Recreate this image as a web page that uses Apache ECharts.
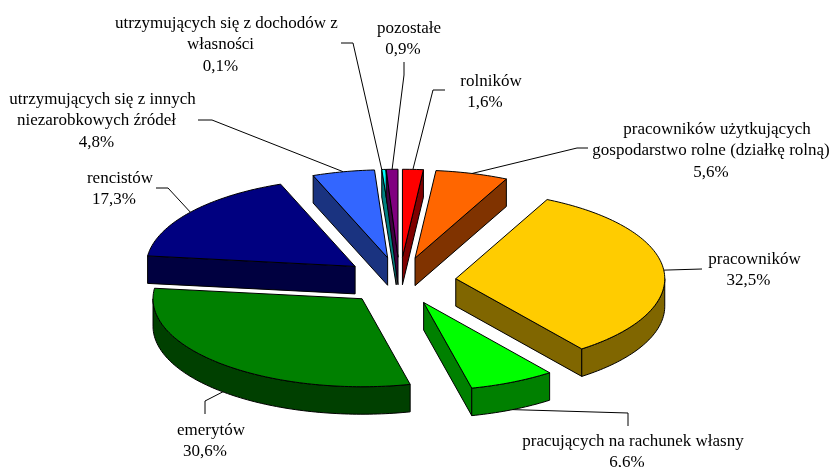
<!DOCTYPE html>
<html>
<head>
    <meta charset="UTF-8">
    <title>Struktura gospodarstw domowych</title>
    <script type="text/javascript" src="https://cdn.jsdelivr.net/npm/echarts@6/dist/echarts.min.js"></script>
</head>
<body style="margin: 0; background: #fff">
<div id="container" style="width: 831px; height: 467px"></div>
<script type="text/javascript">
    // data, clockwise from the top of the pie
    const categories = [
        'rolników',
        'pracowników użytkujących\ngospodarstwo rolne (działkę rolną)',
        'pracowników',
        'pracujących na rachunek własny',
        'emerytów',
        'rencistów',
        'utrzymujących się z innych\nniezarobkowych źródeł',
        'utrzymujących się z dochodów z\nwłasności',
        'pozostałe'
    ];
    const values = [1.6, 5.6, 32.5, 6.6, 30.6, 17.3, 4.8, 0.1, 0.9];

    // styles
    const topColors = ['#ff0000', '#ff6600', '#ffcc00', '#00ff00', '#008000', '#000080', '#3366ff', '#00ffff', '#800080'];
    const wallColors = ['#800000', '#803300', '#806600', '#008000', '#004000', '#000040', '#1a3380', '#008080', '#400040'];

    // label layout: centre of the text block, then the bends of the leader line
    const labelCenters = [[485, 92], [711, 151], [748.5, 270], [627, 452], [205, 441], [114, 189], [96.5, 121], [220.5, 45], [403, 39]];
    const firstLineShift = 6; // first line of each label sits a little to the right
    const labelLineHeight = 21.5;
    const leaderBends = [
        [[433, 90], [445, 90]],
        [[577, 148], [588, 148]],
        [[702, 269]],
        [[628, 413], [628, 426]],
        [[205, 401], [205, 414]],
        [[168, 188], [156, 188]],
        [[212, 120], [198, 120]],
        [[353, 43], [341, 43]],
        [[404, 75], [404, 62]]
    ];

    // pie projection
    const cx = 399.6, cy = 281;
    const rx = 209, ry = 88;
    const depth = 27.5;
    const explode = 0.27;
    const minSweep = 1.1 * Math.PI / 180; // thin slices stay visible

    const total = values.reduce((a, b) => a + b, 0);
    let sum = 0;
    const slices = values.map(v => {
        const s = {start: sum / total * 2 * Math.PI};
        sum += v;
        s.end = sum / total * 2 * Math.PI;
        s.mid = (s.start + s.end) / 2;
        s.ax = cx + explode * rx * Math.sin(s.mid);
        s.ay = cy - explode * ry * Math.cos(s.mid);
        s.anchor = s.mid;
        if (s.end - s.start < minSweep) {
            s.start = s.mid - minSweep / 2;
            s.end = s.mid + minSweep / 2;
            s.anchor = s.start;
        }
        return s;
    });

    function rim(s, a, dy) {
        return [s.ax + rx * Math.sin(a), s.ay - ry * Math.cos(a) + (dy || 0)];
    }

    function arc(s, from, to, dy) {
        const pts = [];
        const n = Math.max(2, Math.ceil((to - from) / 0.02));
        for (let i = 0; i <= n; i++) {
            pts.push(rim(s, from + (to - from) * i / n, dy));
        }
        return pts;
    }

    function poly(points, fill) {
        return {
            type: 'polygon',
            shape: {points: points},
            style: {fill: fill, stroke: '#000', lineWidth: 1, lineJoin: 'round'}
        };
    }

    function renderSlice(params, api) {
        const i = params.dataIndex;
        const s = slices[i];
        const children = [];
        const wall = wallColors[i];
        const apex = [s.ax, s.ay];
        const apexLow = [s.ax, s.ay + depth];

        // leader line from the rim, lower rim on the front half
        const anchor = rim(s, s.anchor, Math.cos(s.anchor) < 0 ? depth : 0);
        children.push({
            type: 'polyline',
            shape: {points: [anchor].concat(leaderBends[i])},
            style: {fill: null, stroke: '#000', lineWidth: 1}
        });

        // side walls which face the viewer
        if (s.end < Math.PI) {
            children.push(poly([apex, rim(s, s.end), rim(s, s.end, depth), apexLow], wall));
        }
        if (s.start > Math.PI) {
            children.push(poly([apex, rim(s, s.start), rim(s, s.start, depth), apexLow], wall));
        }

        // outer wall, only the part in the front half
        const from = Math.max(s.start, Math.PI / 2);
        const to = Math.min(s.end, Math.PI * 3 / 2);
        if (to > from) {
            children.push(poly(arc(s, from, to).concat(arc(s, from, to, depth).reverse()), wall));
        }

        // top face
        children.push(poly([apex].concat(arc(s, s.start, s.end)), topColors[i]));

        // label, one text per line
        const pct = api.value(1).toFixed(1).replace('.', ',') + '%';
        const lines = categories[i].split('\n').concat(pct);
        lines.forEach((line, k) => {
            children.push({
                type: 'text',
                style: {
                    text: line,
                    x: labelCenters[i][0] + (k === 0 ? firstLineShift : 0),
                    y: labelCenters[i][1] + (k - (lines.length - 1) / 2) * labelLineHeight,
                    align: 'center',
                    verticalAlign: 'middle',
                    fontFamily: 'Liberation Serif',
                    fontSize: 17,
                    fill: '#000'
                }
            });
        });

        return {type: 'group', children: children};
    }

    const myChart = echarts.init(document.getElementById('container'), null, {renderer: 'canvas'});
    myChart.setOption({
        animation: false,
        backgroundColor: '#fff',
        series: [{
            type: 'custom',
            coordinateSystem: 'none',
            renderItem: renderSlice,
            data: values.map((v, i) => [i, v])
        }]
    });
</script>
</body>
</html>
